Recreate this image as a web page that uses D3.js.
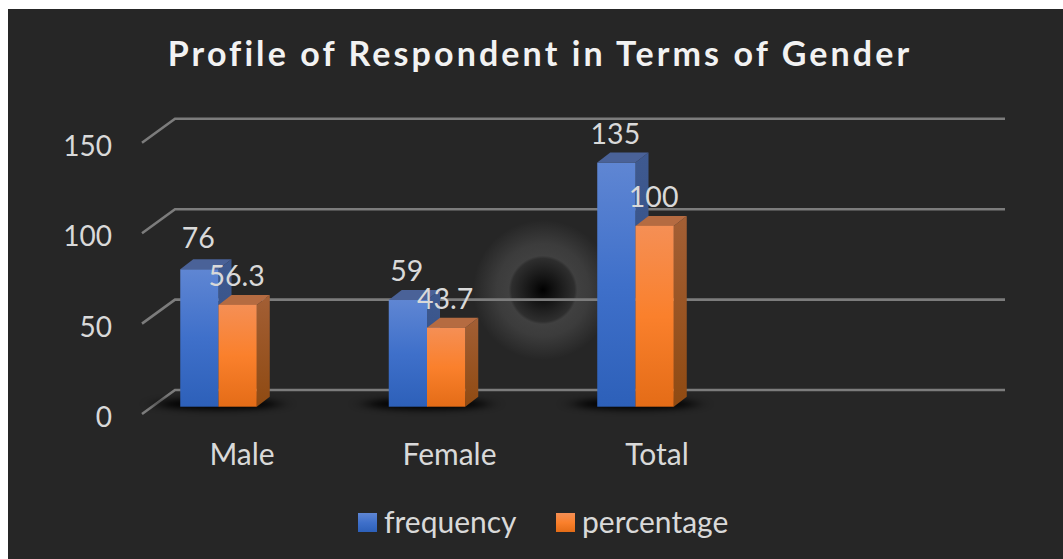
<!DOCTYPE html>
<html>
<head>
<meta charset="utf-8">
<script src="https://cdn.jsdelivr.net/npm/d3@7"></script>
<style>
html, body { margin: 0; padding: 0; background: #fff; }
svg { display: block; }
text { font-family: Lato, "Open Sans", sans-serif; }
</style>
</head>
<body>
<svg id="chart" width="1063" height="559"></svg>
<script>
var categories = ["Male", "Female", "Total"];
var series_names = ["frequency", "percentage"];
var frequency = [76, 59, 135];
var percentage = [56.3, 43.7, 100];
var tick_values = [0, 50, 100, 150];
var title_text = "Profile of Respondent in Terms of Gender";

var svg = d3.select("#chart"),
    defs = svg.append("defs");

var dx = 13, dy = -10;       // depth of a bar
var wall_dx = 33, wall_dy = -24;  // depth of the floor / wall

var scale_y = d3.scaleLinear().domain([0, 150]).range([406.7, 135.5]);
var scale_x = d3.scaleBand().domain(categories).range([114.25, 739.75]);
var scale_s = d3.scaleBand().domain(series_names).range([66, 142.5]);
var label_x = d3.scaleBand().domain(categories).range([138.25, 760.75]);

var colors = {
    frequency: { stops: ["#5f86d3", "#3f70ca", "#2d60b9"], side: ["#3f5a90", "#2f4a80"], top: "#4a6298" },
    percentage: { stops: ["#f58f55", "#fa802c", "#e46c17"], side: ["#a35f35", "#8f4a12"], top: "#b56b41" }
};

function vertical_gradient(id, stops) {
    var g = defs.append("linearGradient").attr("id", id)
        .attr("x1", 0).attr("y1", 0).attr("x2", 0).attr("y2", 1);
    stops.forEach(function(c, i) {
        g.append("stop").attr("offset", i / (stops.length - 1)).attr("stop-color", c);
    });
}
series_names.forEach(function(s) {
    vertical_gradient("front_" + s, colors[s].stops);
    vertical_gradient("side_" + s, colors[s].side);
});

defs.append("filter").attr("id", "blur")
    .attr("x", "-30%").attr("y", "-200%").attr("width", "160%").attr("height", "500%")
    .append("feGaussianBlur").attr("stdDeviation", "9 3");

var halo = defs.append("radialGradient").attr("id", "halo");
[[0, "#000"], [0.14, "#101010"], [0.3, "#202020"], [0.45, "#2e2e2e"], [0.49, "#404040"], [0.66, "#3c3c3c"], [1, "#262626"]]
    .forEach(function(d) {
        halo.append("stop").attr("offset", d[0]).attr("stop-color", d[1]);
    });

/* background */
svg.append("rect").attr("x", 8).attr("y", 9).attr("width", 1055).attr("height", 550).attr("fill", "#262626");

/* the dark blob behind the chart */
svg.append("circle").attr("cx", 543).attr("cy", 290).attr("r", 70).attr("fill", "url(#halo)");

/* gridlines: front edge up to the wall then along it */
var grid_g = svg.append("g");
grid_g.selectAll("path")
    .data(tick_values)
    .enter().append("path")
    .attr("d", function(d) {
        var y = scale_y(d) + 7.3;
        return d3.line()([[142, y], [142 + wall_dx, y + wall_dy], [1005, y + wall_dy]]);
    })
    .attr("fill", "none")
    .attr("stroke", "#7c7c7c")
    .attr("stroke-width", 2.6);

/* y axis */
var axis_y = d3.axisLeft(scale_y).tickValues(tick_values).tickSize(0).tickPadding(0);
var axis_g = svg.append("g").attr("transform", "translate(112,7.3)").call(axis_y);
axis_g.select(".domain").remove();
axis_g.selectAll("text")
    .attr("font-size", 28)
    .attr("fill", "#d9d9d9")
    .attr("dy", 12.5);

/* x axis */
var axis_x = d3.axisBottom(label_x).tickSize(0).tickPadding(0);
var axis_xg = svg.append("g").attr("transform", "translate(0,438)").call(axis_x);
axis_xg.select(".domain").remove();
axis_xg.selectAll("text")
    .attr("font-size", 30)
    .attr("fill", "#d9d9d9")
    .attr("dy", 27);

/* bars */
var rows = [];
categories.forEach(function(c, i) {
    rows.push({ cat: c, s: "frequency", v: frequency[i] });
    rows.push({ cat: c, s: "percentage", v: percentage[i] });
});

// floor shadows
svg.append("g").selectAll("ellipse")
    .data(categories)
    .enter().append("ellipse")
    .attr("cx", function(d) { return scale_x(d) + 104; })
    .attr("cy", 404)
    .attr("rx", 62)
    .attr("ry", 6)
    .attr("fill", "#000")
    .attr("opacity", 0.95)
    .attr("filter", "url(#blur)");

var bars = svg.append("g").selectAll("g")
    .data(rows)
    .enter().append("g")
    .attr("transform", function(d) { return "translate(" + (scale_x(d.cat) + scale_s(d.s)) + ",0)"; });

var w = scale_s.bandwidth();

bars.append("path")
    .attr("d", function(d) {
        var t = scale_y(d.v);
        return "M" + w + "," + t + "l" + dx + "," + dy + "V" + (scale_y(0) + dy) + "l" + (-dx) + "," + (-dy) + "Z";
    })
    .attr("fill", function(d) { return "url(#side_" + d.s + ")"; });

bars.append("path")
    .attr("d", function(d) {
        var t = scale_y(d.v);
        return "M0," + t + "l" + dx + "," + dy + "h" + w + "l" + (-dx) + "," + (-dy) + "Z";
    })
    .attr("fill", function(d) { return colors[d.s].top; });

bars.append("rect")
    .attr("x", 0)
    .attr("y", function(d) { return scale_y(d.v); })
    .attr("width", w)
    .attr("height", function(d) { return scale_y(0) - scale_y(d.v); })
    .attr("fill", function(d) { return "url(#front_" + d.s + ")"; });

/* value labels go over all bars */
svg.append("g").selectAll("text")
    .data(rows)
    .enter().append("text")
    .attr("x", function(d) { return scale_x(d.cat) + scale_s(d.s) + w / 2 - 1; })
    .attr("y", function(d) { return scale_y(d.v) - (d.v === 76 ? 21 : 19); })
    .attr("text-anchor", "middle")
    .attr("font-size", 28.5)
    .attr("fill", "#d9d9d9")
    .text(function(d) { return d.v; });

/* title */
svg.append("text")
    .attr("x", 540)
    .attr("y", 66)
    .attr("text-anchor", "middle")
    .attr("font-size", 34)
    .attr("font-weight", 700)
    .attr("letter-spacing", 3.1)
    .attr("fill", "#f2f2f2")
    .text(title_text);

/* legend */
var legend_x = d3.scaleOrdinal().domain(series_names).range([358, 556]);
var legend = svg.append("g").selectAll("g")
    .data(series_names)
    .enter().append("g")
    .attr("transform", function(d) { return "translate(" + legend_x(d) + ",513)"; });
legend.append("rect")
    .attr("width", 19)
    .attr("height", 19)
    .attr("fill", function(d) { return "url(#front_" + d + ")"; });
legend.append("text")
    .attr("x", 26)
    .attr("y", 20)
    .attr("font-size", 30)
    .attr("fill", "#d9d9d9")
    .text(function(d) { return d; });
</script>
</body>
</html>
